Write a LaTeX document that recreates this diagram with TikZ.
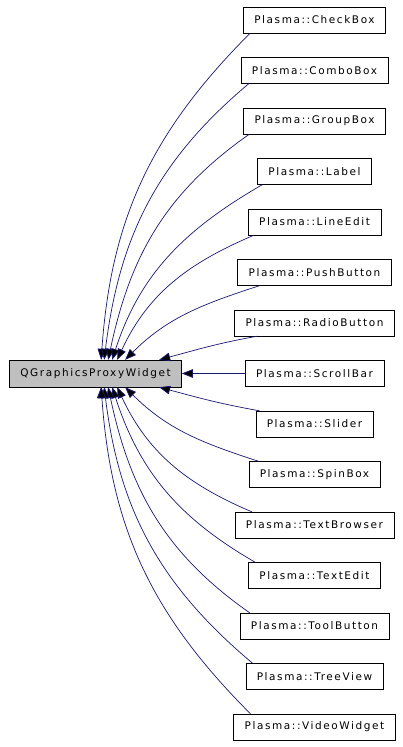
\documentclass[tikz,border=0pt]{standalone}
\usepackage{fontspec}
\setmainfont{DejaVu Sans}[LetterSpace=15]
\usetikzlibrary{arrows.meta,positioning}
\definecolor{edgeblue}{HTML}{191970}
\definecolor{basegray}{HTML}{BFBFBF}

\begin{document}
\begin{tikzpicture}
		[x=1pt,y=-1pt,node distance=50.5pt,on grid,
		 cls/.style={draw,minimum height=26pt,inner xsep=11pt,inner ysep=0pt,font=\fontsize{10.5pt}{12pt}\selectfont},
		 dep/.style={<-,>={Triangle[length=11pt,width=8.5pt]},draw=edgeblue,fill=none,line width=0.7pt}]
		\useasboundingbox (0,0) rectangle (403,747);
		\node[cls] (checkbox) at (314.5,20) {Plasma::CheckBox};
		\node[cls] (combobox) [below=of checkbox] {Plasma::ComboBox};
		\node[cls] (groupbox) [below=of combobox] {Plasma::GroupBox};
		\node[cls] (label) [below=of groupbox] {Plasma::Label};
		\node[cls] (lineedit) [below=of label] {Plasma::LineEdit};
		\node[cls] (pushbutton) [below=of lineedit] {Plasma::PushButton};
		\node[cls] (radiobutton) [below=of pushbutton] {Plasma::RadioButton};
		\node[cls] (scrollbar) [below=of radiobutton] {Plasma::ScrollBar};
		\node[cls] (slider) [below=of scrollbar] {Plasma::Slider};
		\node[cls] (spinbox) [below=of slider] {Plasma::SpinBox};
		\node[cls] (textbrowser) [below=of spinbox] {Plasma::TextBrowser};
		\node[cls] (textedit) [below=of textbrowser] {Plasma::TextEdit};
		\node[cls] (toolbutton) [below=of textedit] {Plasma::ToolButton};
		\node[cls] (treeview) [below=of toolbutton] {Plasma::TreeView};
		\node[cls] (videowidget) [below=of treeview] {Plasma::VideoWidget};
		\node[cls,fill=basegray,minimum height=27pt] (proxy) [left=219pt of scrollbar] {QGraphicsProxyWidget};
		\path[dep]
		([xshift=92pt]proxy.north west) edge [out=86,in=225] ([xshift=7pt]checkbox.south west)
		([xshift=95pt]proxy.north west) edge [out=83,in=220] ([xshift=8pt]combobox.south west)
		([xshift=99pt]proxy.north west) edge [out=78,in=215] ([xshift=6pt]groupbox.south west)
		([xshift=103pt]proxy.north west) edge [out=72,in=210] ([xshift=5pt]label.south west)
		([xshift=108pt]proxy.north west) edge [out=65,in=203] ([xshift=6pt]lineedit.south west)
		([xshift=116pt]proxy.north west) edge [out=45,in=198] ([xshift=22pt]pushbutton.south west)
		([xshift=150pt]proxy.north west) edge [out=15,in=190] ([xshift=23pt]radiobutton.south west)
		(proxy.east) edge (scrollbar.west)
		([xshift=150pt]proxy.south west) edge [out=-15,in=170] ([xshift=4pt]slider.north west)
		([xshift=116pt]proxy.south west) edge [out=-45,in=162] ([xshift=10pt]spinbox.north west)
		([xshift=108pt]proxy.south west) edge [out=-65,in=157] ([xshift=17pt]textbrowser.north west)
		([xshift=103pt]proxy.south west) edge [out=-72,in=150] ([xshift=7pt]textedit.north west)
		([xshift=99pt]proxy.south west) edge [out=-78,in=145] ([xshift=10pt]toolbutton.north west)
		([xshift=95pt]proxy.south west) edge [out=-83,in=140] ([xshift=7pt]treeview.north west)
		([xshift=92pt]proxy.south west) edge [out=-86,in=135] ([xshift=17pt]videowidget.north west)
		;
\end{tikzpicture}
\end{document}
